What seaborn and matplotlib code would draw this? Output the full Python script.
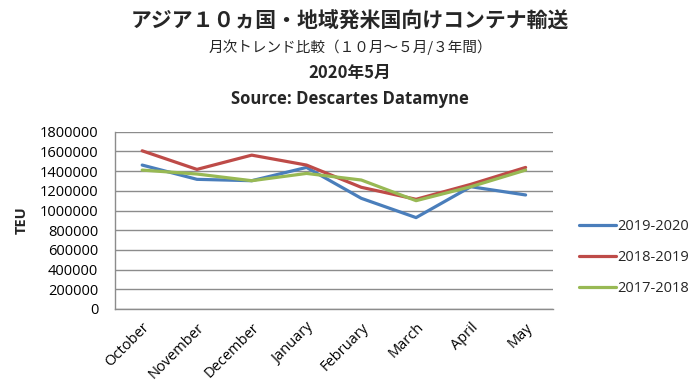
import pandas as pd
import matplotlib
matplotlib.use("Agg")
import matplotlib.pyplot as plt
import seaborn as sns

# Monthly container volumes (TEU), Asia 10 -> US
months = ['October', 'November', 'December', 'January',
          'February', 'March', 'April', 'May']
series_names = ['2019-2020', '2018-2019', '2017-2018']
teu_2019_2020 = [1462000, 1317000, 1303000, 1438000, 1124000, 928000, 1242000, 1158000]
teu_2018_2019 = [1607000, 1418000, 1563000, 1462000, 1236000, 1114000, 1266000, 1438000]
teu_2017_2018 = [1411000, 1371000, 1303000, 1377000, 1310000, 1100000, 1242000, 1411000]
y_ticks = [0, 200000, 400000, 600000, 800000, 1000000, 1200000, 1400000, 1600000, 1800000]
colors = ['#4A7EBB', '#BE4B48', '#98B954']

rows = []
for name, vals in zip(series_names, [teu_2019_2020, teu_2018_2019, teu_2017_2018]):
    for m, v in zip(months, vals):
        rows.append({'month': m, 'period': name, 'teu': v})
df = pd.DataFrame(rows)
df['month'] = pd.Categorical(df['month'], categories=months, ordered=True)
df['x'] = df['month'].cat.codes

sns.set_theme(style="white")
plt.rcParams['font.family'] = ['Open Sans', 'DejaVu Sans']

fig = plt.figure(figsize=(7, 3.9), dpi=100)
ax = fig.add_axes([0.164, 0.208, 0.626, 0.454])

sns.lineplot(data=df, x='x', y='teu', hue='period', hue_order=series_names,
             palette=colors, linewidth=2.3, ax=ax, sort=False)

ax.set_xlim(-0.5, 7.5)
ax.set_ylim(0, 1800000)
ax.set_yticks(y_ticks)
ax.set_yticklabels([str(t) for t in y_ticks], fontsize=10.5)
ax.set_xticks(range(len(months)))
ax.set_xticklabels(months, rotation=45, ha='right', rotation_mode='anchor', fontsize=10.5)
ax.tick_params(axis='y', length=0, pad=12, colors='black')
ax.tick_params(axis='x', length=0, pad=8, colors='black')
ax.yaxis.grid(True, color='#8c8c8c', linewidth=1)
ax.set_axisbelow(True)
for s in ['top', 'right']:
    ax.spines[s].set_visible(False)
for s in ['left', 'bottom']:
    ax.spines[s].set_color('#8c8c8c')
    ax.spines[s].set_linewidth(1)
ax.set_xlabel('')
ax.set_ylabel('TEU', fontsize=10.5, fontweight='bold', labelpad=8)

ax.legend(loc='center left', bbox_to_anchor=(1.03, 0.29), frameon=False,
          fontsize=10.5, handlelength=2.5, handletextpad=0.1, labelspacing=1.1)

cjk = ['Noto Sans CJK JP', 'DejaVu Sans']
fig.text(0.5, 0.945, 'アジア１０ヵ国・地域発米国向けコンテナ輸送', ha='center', va='center',
         fontsize=15, fontweight='bold', family=cjk)
fig.text(0.5, 0.878, '月次トレンド比較（１０月～５月/３年間）', ha='center', va='center',
         fontsize=10.5, family=cjk)
fig.text(0.5, 0.812, '2020年5月', ha='center', va='center',
         fontsize=12, fontweight='bold', family=cjk)
fig.text(0.5, 0.745, 'Source: Descartes Datamyne', ha='center', va='center',
         fontsize=12, fontweight='bold', family=['Open Sans', 'DejaVu Sans'])

fig.savefig('out.png', dpi=100)
